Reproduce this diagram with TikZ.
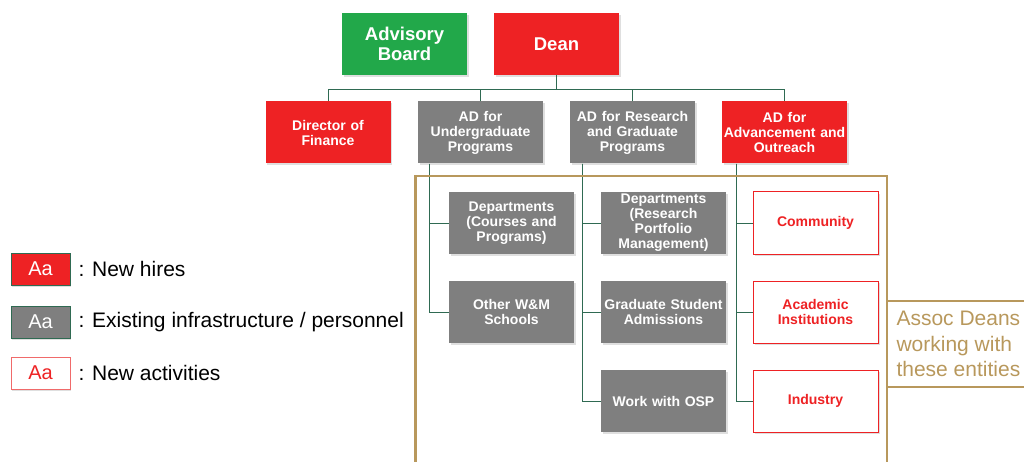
\documentclass[tikz,border=0pt]{standalone}
\usepackage{fontspec}
\setmainfont{Liberation Sans}
\usetikzlibrary{calc,shadows}
\definecolor{newred}{HTML}{EE2224}
\definecolor{oldgrey}{HTML}{7F7F7F}
\definecolor{board}{HTML}{22A84A}
\definecolor{wire}{HTML}{2F6A52}
\definecolor{tan}{HTML}{B8985C}
\definecolor{softred}{HTML}{F06A6A}
\tikzset{
  unit/.style={minimum width=125pt, minimum height=62pt, inner xsep=0pt, inner ysep=0pt,
    align=center, text width=125pt, font=\bfseries\fontsize{14}{15}\selectfont,
    drop shadow={shadow xshift=1.5pt, shadow yshift=-2pt, opacity=0.25}},
  topunit/.style={unit, font=\bfseries\fontsize{18.5}{20}\selectfont},
  hire/.style={unit, fill=newred, text=white},
  staff/.style={unit, fill=oldgrey, text=white},
  task/.style={unit, fill=white, draw=newred, line width=1pt, text=newred},
  link/.style={draw=wire, line width=0.9pt},
  frame/.style={draw=tan, line width=2.6pt},
  key/.style={minimum width=59pt, minimum height=32pt, inner sep=0pt,
    font=\fontsize{20}{22}\selectfont, line width=0.9pt,
    drop shadow={shadow xshift=1pt, shadow yshift=-1.5pt, opacity=0.25}},
  keytxt/.style={anchor=west, font=\fontsize{21}{24}\selectfont},
  assoc/.style={anchor=west, align=left, text=tan, font=\fontsize{21}{25.5}\selectfont}
}

\begin{document}
\begin{tikzpicture}[x=1pt, y=-1pt]
  \useasboundingbox (0,0) rectangle (1024,462);

  % top level
  \node[topunit, fill=board, text=white] (adv) at (404.5,44) {Advisory\\Board};
  \node[topunit, fill=newred, text=white] (dean) at (556.5,44) {Dean};

  % associate deans and finance
  \node[hire]  (fin) at (328,132.5) {Director of\\Finance};
  \node[staff] (adU) at (480.5,132.5) {AD for\\Undergraduate\\Programs};
  \node[staff] (adR) at (632.5,132.5) {AD for Research\\and Graduate\\Programs};
  \node[hire]  (adO) at (784.5,132.5) {AD for\\Advancement and\\Outreach};

  % entities
  \node[staff] (depC) at (511.5,223) {Departments\\(Courses and\\Programs)};
  \node[staff] (othS) at (511.5,312) {Other W\&M\\Schools};
  \node[staff] (depR) at (663.5,223) {Departments\\(Research\\Portfolio\\Management)};
  \node[staff] (grad) at (663.5,312) {Graduate Student\\Admissions};
  \node[staff] (osp)  at (663.5,401) {Work with OSP};
  \node[task]  (comm) at (815.5,223) {Community};
  \node[task]  (acad) at (815.5,312) {Academic\\Institutions};
  \node[task]  (ind)  at (815.5,401) {Industry};

  % reporting lines
  \coordinate (bus) at (556.5,89);
  \draw[link] (dean.south) -- (bus);
  \draw[link] (fin.north) -- (fin.north |- bus) -- (adO.north |- bus) -- (adO.north);
  \draw[link] (adU.north) -- (adU.north |- bus);
  \draw[link] (adR.north) -- (adR.north |- bus);

  \coordinate (spU) at ($(adU.south west)+(12,0)$);
  \coordinate (spR) at ($(adR.south west)+(13,0)$);
  \coordinate (spO) at ($(adO.south west)+(15,0)$);
  \draw[link] (spU) |- (othS.west);
  \draw[link] (spU) |- (depC.west);
  \draw[link] (spR) |- (osp.west);
  \draw[link] (spR) |- (grad.west);
  \draw[link] (spR) |- (depR.west);
  \draw[link] (spO) |- (ind.west);
  \draw[link] (spO) |- (acad.west);
  \draw[link] (spO) |- (comm.west);

  % assoc deans frame
  \draw[frame] (415.5,462) -- (415.5,176) -- (887,176) -- (887,462);
  \draw[frame] (1024,301) -- (887,301) -- (887,387) -- (1024,387);
  \node[assoc] (note) at (893,344) {Assoc Deans\\working with\\these entities};

  % legend
  \node[key, fill=newred, draw=wire, text=white] (k1) at (40.5,269) {Aa};
  \node[key, fill=oldgrey, draw=wire, text=white] (k2) at (40.5,322) {Aa};
  \node[key, fill=white, draw=softred, text=newred] (k3) at (40.5,373) {Aa};
  \node[keytxt] (t1) at (75,269) {: New hires};
  \node[keytxt] (t2) at (75,322) {: Existing infrastructure / personnel};
  \node[keytxt] (t3) at (75,373) {: New activities};
\end{tikzpicture}
\end{document}
